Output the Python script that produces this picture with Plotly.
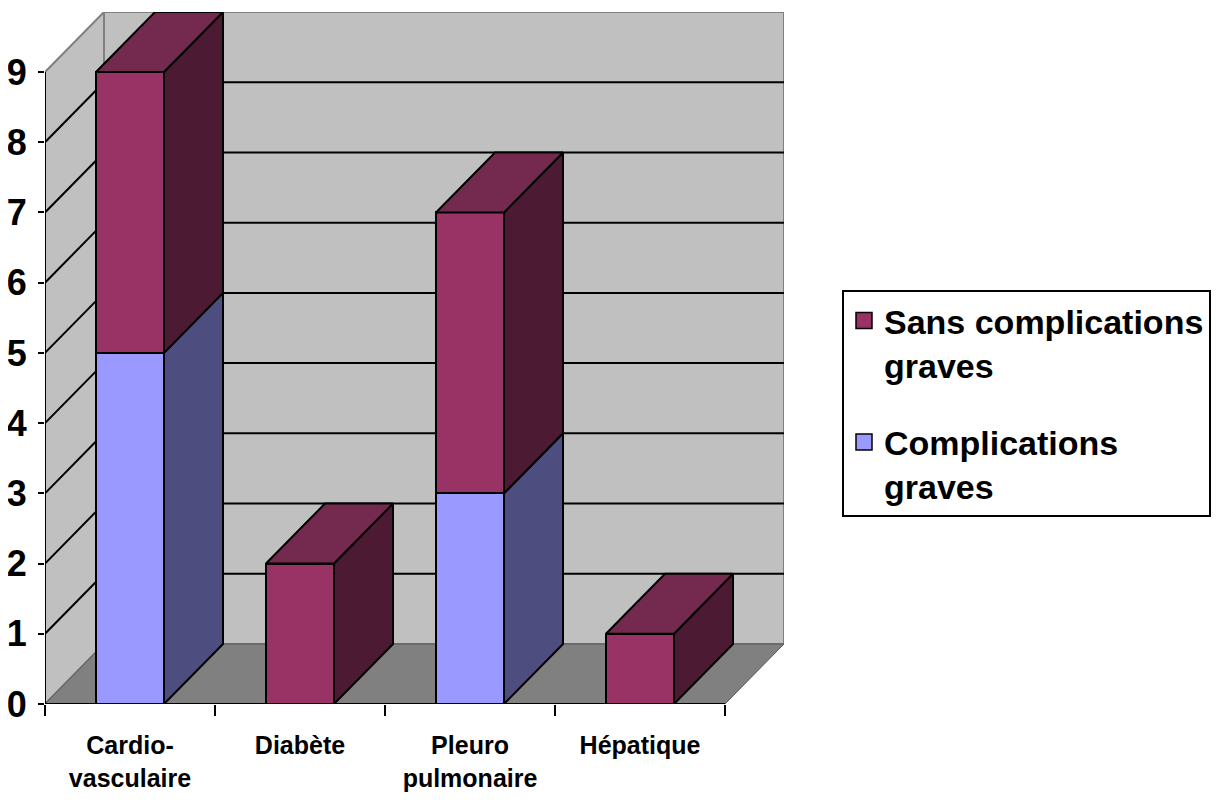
import plotly.graph_objects as go

# ---- data ----
categories = ["Cardio-<br>vasculaire", "Diabète", "Pleuro<br>pulmonaire", "Hépatique"]
complications_graves = [5, 0, 3, 0]
sans_complications = [4, 2, 4, 1]
y_ticks = [0, 1, 2, 3, 4, 5, 6, 7, 8, 9]
series_names = ["Complications<br>graves", "Sans complications<br>graves"]

# ---- style ----
FRONT = ["#9999FF", "#993366"]
SIDE = ["#4D4D80", "#4D1A33"]
TOP = ["#4D4D80", "#732A4E"]
WALL = "#C0C0C0"
FLOOR = "#808080"
EDGE = "#808080"

DX = 59 / 170.0     # depth offset in x data units
DY = 60 / 70.2      # depth offset in y data units
BW = 0.4            # bar width
YMAX = 9
NX = len(categories)
x_idx = list(range(NX))

fig = go.Figure()

# front faces (stacked bars)
series = [complications_graves, sans_complications]
for k, vals in enumerate(series):
    fig.add_trace(go.Bar(
        x=x_idx, y=vals, width=BW, name=series_names[k],
        marker=dict(color=FRONT[k], line=dict(color="black", width=2)),
        showlegend=False, hoverinfo="skip",
    ))

# side and top faces, computed from the stacked values
for i in x_idx:
    base = 0
    tops = []
    for k, vals in enumerate(series):
        v = vals[i]
        if v > 0:
            y0, y1 = base, base + v
            xr = i + BW / 2
            fig.add_trace(go.Scatter(
                x=[xr, xr, xr + DX, xr + DX, xr],
                y=[y0, y1, y1 + DY, y0 + DY, y0],
                mode="lines", fill="toself", fillcolor=SIDE[k],
                line=dict(color="black", width=2),
                showlegend=False, hoverinfo="skip"))
            tops.append((y1, k))
            base = y1
    if tops:
        yt, k = tops[-1]
        xl, xr = i - BW / 2, i + BW / 2
        fig.add_trace(go.Scatter(
            x=[xl, xr, xr + DX, xl + DX, xl],
            y=[yt, yt, yt + DY, yt + DY, yt],
            mode="lines", fill="toself", fillcolor=TOP[k],
            line=dict(color="black", width=2),
            showlegend=False, hoverinfo="skip"))

# legend entries
for k in [1, 0]:
    fig.add_trace(go.Scatter(
        x=[None], y=[None], mode="markers", name=series_names[k],
        legendgroup=f"g{k}",
        marker=dict(symbol="square", size=18, color=FRONT[k],
                    line=dict(color="black", width=1.5)),
        hoverinfo="skip"))

shapes = []
x0, x1 = -0.5, NX - 0.5
# back wall
shapes.append(dict(type="rect", xref="x", yref="y", x0=x0 + DX, x1=x1 + DX, y0=DY, y1=YMAX + DY,
                   fillcolor=WALL, line=dict(color=EDGE, width=2), layer="below"))
# left wall
shapes.append(dict(type="path", xref="x", yref="y",
                   path=f"M{x0},0 L{x0},{YMAX} L{x0+DX},{YMAX+DY} L{x0+DX},{DY} Z",
                   fillcolor=WALL, line=dict(color=EDGE, width=2), layer="below"))
# floor
shapes.append(dict(type="path", xref="x", yref="y",
                   path=f"M{x0},0 L{x1},0 L{x1+DX},{DY} L{x0+DX},{DY} Z",
                   fillcolor=FLOOR, line=dict(color="#555555", width=1), layer="below"))
# gridlines
for v in y_ticks[1:-1]:
    shapes.append(dict(type="line", xref="x", yref="y", x0=x0 + DX, x1=x1 + DX, y0=v + DY, y1=v + DY,
                       line=dict(color="black", width=2), layer="below"))
    shapes.append(dict(type="line", xref="x", yref="y", x0=x0, x1=x0 + DX, y0=v, y1=v + DY,
                       line=dict(color="black", width=2), layer="below"))
# axis lines
shapes.append(dict(type="line", xref="x", yref="y", x0=x0, x1=x1, y0=0, y1=0,
                   line=dict(color="black", width=2), layer="above"))
shapes.append(dict(type="line", xref="x", yref="y", x0=x0, x1=x0, y0=0, y1=YMAX,
                   line=dict(color="black", width=2), layer="above"))

XR = [x0, x1 + DX]
YR = [0, YMAX + DY]

# the page body has an 8px default margin: figure is sized/offset to compensate
fig.update_layout(
    width=1215, height=801,
    margin=dict(l=37, r=439, t=4, b=105, pad=0),
    paper_bgcolor="white", plot_bgcolor="white",
    barmode="stack", bargap=0,
    shapes=shapes,
    showlegend=True,
    legend=dict(
        x=(834 - 37) / 739, y=(696 - 282) / 692, xanchor="left", yanchor="top",
        bordercolor="black", borderwidth=2, bgcolor="white",
        font=dict(family="Liberation Sans, Arial", size=34, color="black", weight="bold"),
        valign="top", traceorder="grouped", tracegroupgap=30,
        itemsizing="trace",
    ),
    xaxis=dict(
        range=XR, tickmode="array", tickvals=x_idx, ticktext=categories,
        showgrid=False, zeroline=False, showline=False, ticks="",
        tickfont=dict(family="Liberation Sans, Arial", size=25, color="black", weight="bold"),
        ticklabelstandoff=24, automargin=False, fixedrange=True,
    ),
    xaxis2=dict(
        range=XR, overlaying="x", side="bottom", tickmode="array",
        tickvals=[x0 + j for j in range(NX + 1)], ticks="outside", ticklen=11,
        tickwidth=2, tickcolor="black", showticklabels=False, showgrid=False,
        zeroline=False, showline=False, automargin=False, fixedrange=True,
    ),
    yaxis=dict(
        range=YR, tickmode="array", tickvals=y_ticks, ticktext=[str(v) for v in y_ticks],
        showgrid=False, zeroline=False, showline=False, ticks="outside", ticklen=6,
        tickwidth=2, tickcolor="black",
        tickfont=dict(family="Liberation Sans, Arial", size=36, color="black", weight="bold"),
        ticklabelstandoff=4, automargin=False, fixedrange=True,
    ),
)
# dummy trace to activate xaxis2
fig.add_trace(go.Scatter(x=[None], y=[None], xaxis="x2", showlegend=False, hoverinfo="skip"))

fig.write_html("out.html", config={"displayModeBar": False})
